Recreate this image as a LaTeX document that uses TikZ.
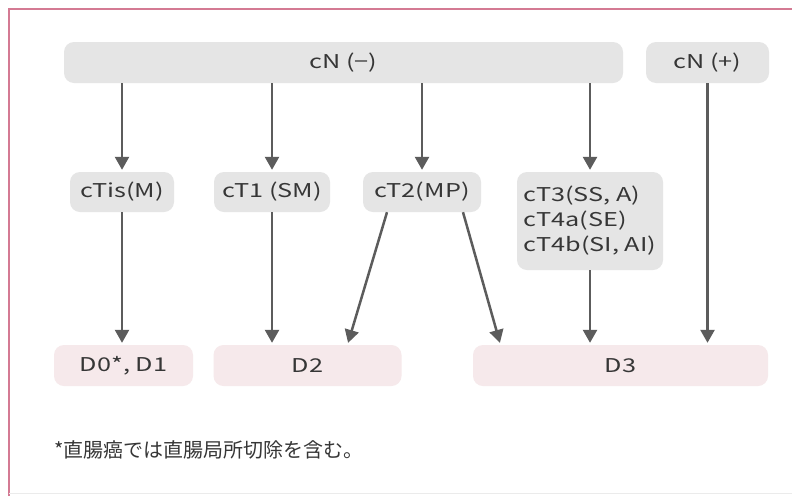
\documentclass[tikz,border=0pt]{standalone}
\usepackage{fontspec}
\setmainfont{Noto Sans CJK JP}
\newfontfamily\labfont[FakeStretch=1.33]{Noto Sans CJK JP}
\newfontfamily\notefont{Noto Sans CJK JP}
\usetikzlibrary{arrows.meta}
\definecolor{boxgray}{HTML}{E5E5E5}
\definecolor{boxpink}{HTML}{F6E9EB}
\definecolor{arrowgray}{HTML}{5C5C5C}
\definecolor{framepink}{HTML}{D47A93}
\definecolor{txt}{HTML}{363636}
\begin{document}
\begin{tikzpicture}[x=1pt,y=-1pt,
  every node/.style={font=\labfont\fontsize{19}{25}\selectfont, text=txt, inner sep=0pt},
  gbox/.style={fill=boxgray, rounded corners=10pt},
  pbox/.style={fill=boxpink, rounded corners=10pt},
  arr/.style={draw=arrowgray, line width=2.5pt, -{Triangle[length=13pt,width=14pt]}, shorten >=2pt}]
\useasboundingbox (0,0) rectangle (792,496);
\fill[white] (0,0) rectangle (792,496);
\draw[framepink, line width=1.5pt] (9,496) -- (9,9) -- (792,9);
\draw[black!8, line width=1pt] (9,493) -- (792,493);

\node[gbox, minimum width=559pt, minimum height=41pt] (cNm) at (343.5,62.5) {cN (−)};
\node[gbox, minimum width=123pt, minimum height=41pt] (cNp) at (707.5,62.5) {cN (+)};
\node[gbox, minimum width=104pt, minimum height=40pt] (cTis) at (122,192) {cTis(M)};
\node[gbox, minimum width=116pt, minimum height=40pt] (cT1) at (272,192) {cT1 (SM)};
\node[gbox, minimum width=118pt, minimum height=40pt] (cT2) at (422,192) {cT2(MP)};
\node[gbox, minimum width=146pt, minimum height=98pt, align=left] (cT3) at (590,221) {cT3(SS, A)\\cT4a(SE)\\cT4b(SI, AI)};
\node[pbox, minimum width=139pt, minimum height=41pt] (D01) at (123.5,365.5) {D0*, D1};
\node[pbox, minimum width=188pt, minimum height=41pt] (D2) at (307.5,365.5) {D2};
\node[pbox, minimum width=295pt, minimum height=41pt] (D3) at (620.5,365.5) {D3};
\node[anchor=west, font=\notefont\fontsize{20}{24}\selectfont] (note) at (54,450) {*直腸癌では直腸局所切除を含む。};

\draw[arr] (cNm.south -| cTis.north) -- (cTis.north);
\draw[arr] (cNm.south -| cT1.north) -- (cT1.north);
\draw[arr] (cNm.south -| cT2.north) -- (cT2.north);
\draw[arr] (cNm.south -| cT3.north) -- (cT3.north);
\draw[arr] (cNp.south) -- (cNp.south |- D3.north);
\draw[arr] (cTis.south) -- (cTis.south |- D01.north);
\draw[arr] (cT1.south) -- (cT1.south |- D2.north);
\draw[arr] ([xshift=-35pt]cT2.south) -- ([xshift=40pt]D2.north);
\draw[arr] ([xshift=41pt]cT2.south) -- ([xshift=-120pt]D3.north);
\draw[arr] (cT3.south) -- (cT3.south |- D3.north);
\end{tikzpicture}
\end{document}
